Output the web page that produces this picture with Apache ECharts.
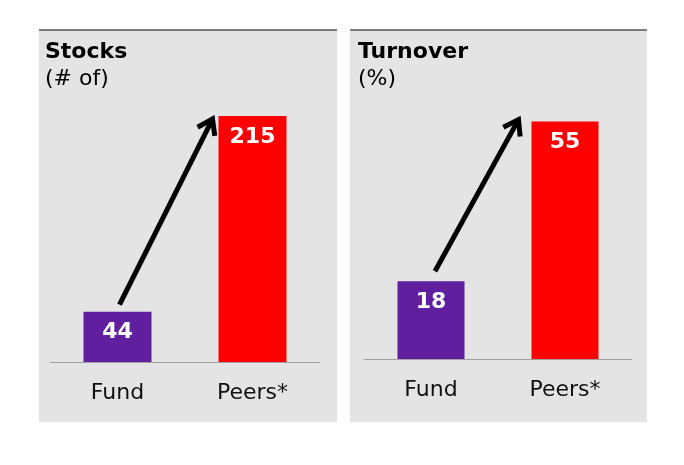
<!DOCTYPE html>
<html>
<head>
<meta charset="utf-8">
<script src="https://cdn.jsdelivr.net/npm/echarts@6/dist/echarts.min.js"></script>
<style>
html,body{margin:0;padding:0;background:#fff;}
#main{width:684px;height:465px;}
</style>
</head>
<body>
<div id="main"></div>
<script>
const categories = ['Fund', 'Peers*'];
const stocksValues = [44, 215];
const turnoverValues = [18, 55];
const panelTitles = ['Stocks', 'Turnover'];
const panelSubtitles = ['(# of)', '(%)'];
const barColors = ['#5f1f9f', '#ff0000'];

const FONT = '"DejaVu Sans", Verdana, sans-serif';
const chart = echarts.init(document.getElementById('main'), null, {renderer: 'canvas'});

function bars(values) {
  return values.map((v, i) => ({value: v, itemStyle: {color: barColors[i]}}));
}

const option = {
  animation: false,
  backgroundColor: '#ffffff',
  title: [
    {text: panelTitles[0], subtext: panelSubtitles[0], left: 40, top: 36, itemGap: 5,
     textStyle: {fontFamily: FONT, fontSize: 22, fontWeight: 'bold', color: '#000'},
     subtextStyle: {fontFamily: FONT, fontSize: 22, color: '#000'}},
    {text: panelTitles[1], subtext: panelSubtitles[1], left: 353, top: 36, itemGap: 5,
     textStyle: {fontFamily: FONT, fontSize: 22, fontWeight: 'bold', color: '#000'},
     subtextStyle: {fontFamily: FONT, fontSize: 22, color: '#000'}}
  ],
  grid: [
    {left: 50, width: 270, top: 76, height: 286},
    {left: 364, width: 268, top: 100, height: 259}
  ],
  xAxis: [0, 1].map(i => ({
    type: 'category', gridIndex: i, data: categories,
    axisLine: {lineStyle: {color: '#a0a0a0', width: 1}},
    axisTick: {show: false},
    axisLabel: {fontFamily: FONT, fontSize: 22, color: '#111', margin: 20}
  })),
  yAxis: [
    {type: 'value', gridIndex: 0, min: 0, max: 250, show: false, splitLine: {show: false}},
    {type: 'value', gridIndex: 1, min: 0, max: 60, show: false, splitLine: {show: false}}
  ],
  series: [
    {type: 'bar', xAxisIndex: 0, yAxisIndex: 0, barWidth: 68, data: bars(stocksValues),
     label: {show: true, position: 'insideTop', distance: 10, fontFamily: FONT, fontSize: 22, fontWeight: 'bold', color: '#fff'}},
    {type: 'bar', xAxisIndex: 1, yAxisIndex: 1, barWidth: 67, data: bars(turnoverValues),
     label: {show: true, position: 'insideTop', distance: 10, fontFamily: FONT, fontSize: 22, fontWeight: 'bold', color: '#fff'}}
  ]
};
chart.setOption(option);

// Panels and arrows (annotation graphics)
function arrow(gridIndex, values, barW, dx0, dy0, dx1, dy1) {
  const p0 = chart.convertToPixel({gridIndex}, [categories[0], values[0]]);
  const p1 = chart.convertToPixel({gridIndex}, [categories[1], values[1]]);
  const sx = p0[0] + dx0, sy = p0[1] + dy0;
  const ex = p1[0] - barW / 2 + dx1, ey = p1[1] + dy1;
  const ang = Math.atan2(ey - sy, ex - sx);
  const L = 17, spread = 0.6;
  const a1 = [ex - L * Math.cos(ang - spread), ey - L * Math.sin(ang - spread)];
  const a2 = [ex - L * Math.cos(ang + spread), ey - L * Math.sin(ang + spread)];
  const style = {stroke: '#000', lineWidth: 5, fill: null, lineCap: 'butt', lineJoin: 'miter'};
  return [
    {type: 'line', shape: {x1: sx, y1: sy, x2: ex - 2 * Math.cos(ang), y2: ey - 2 * Math.sin(ang)}, style, z: 10},
    {type: 'polyline', shape: {points: [a1, [ex, ey], a2]}, style, z: 10}
  ];
}

const graphics = [
  {type: 'rect', shape: {x: 39, y: 30, width: 298, height: 392}, style: {fill: '#e4e4e4'}, z: -10},
  {type: 'rect', shape: {x: 350, y: 30, width: 297, height: 392}, style: {fill: '#e4e4e4'}, z: -10},
  {type: 'line', shape: {x1: 39, y1: 30, x2: 337, y2: 30}, style: {stroke: '#555', lineWidth: 1.5}, z: -5},
  {type: 'line', shape: {x1: 350, y1: 30, x2: 647, y2: 30}, style: {stroke: '#555', lineWidth: 1.5}, z: -5}
].concat(
  arrow(0, stocksValues, 68, 2, -7, -6, 3),
  arrow(1, turnoverValues, 67, 4, -10, -13, -2)
);
chart.setOption({graphic: graphics});
</script>
</body>
</html>
